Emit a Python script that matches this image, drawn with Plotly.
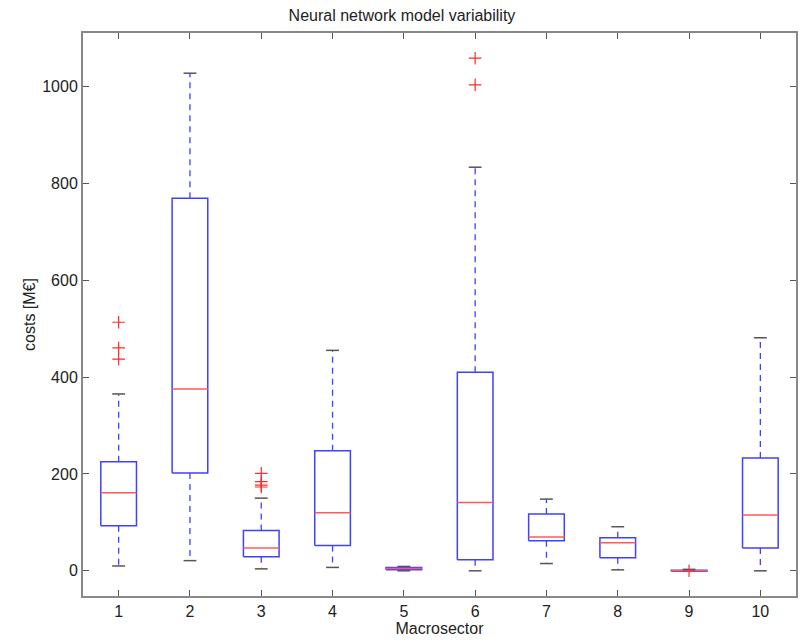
import plotly.graph_objects as go

categories = [1, 2, 3, 4, 5, 6, 7, 8, 9, 10]
lower_whisker = [10, 21, 4, 7, 0, 0, 15, 2, -1, 0]
q1 = [93, 202, 29, 52, 2, 23, 62, 27, -1, 47]
median = [161, 375, 47, 120, 5, 141, 70, 58, 0, 115]
q3 = [225, 769, 83, 248, 7, 410, 117, 68, 1, 233]
upper_whisker = [365, 1027, 150, 455, 9, 833, 148, 91, 3, 481]
outliers = {
    1: [513, 460, 437],
    3: [201, 184, 177, 173],
    6: [1058, 1003],
    9: [0],
}

BW = 0.25   # half box width
CW = 0.09   # half cap width
BLUE = "#4040ff"
RED = "#ff5a5a"
CAP = "#555555"

box_x, box_y = [], []
med_x, med_y = [], []
wh_x, wh_y = [], []
cap_x, cap_y = [], []
for i, c in enumerate(categories):
    box_x += [c - BW, c + BW, c + BW, c - BW, c - BW, None]
    box_y += [q1[i], q1[i], q3[i], q3[i], q1[i], None]
    med_x += [c - BW, c + BW, None]
    med_y += [median[i], median[i], None]
    wh_x += [c, c, None, c, c, None]
    wh_y += [q3[i], upper_whisker[i], None, q1[i], lower_whisker[i], None]
    cap_x += [c - CW, c + CW, None, c - CW, c + CW, None]
    cap_y += [upper_whisker[i], upper_whisker[i], None, lower_whisker[i], lower_whisker[i], None]

out_x, out_y = [], []
for c, vals in outliers.items():
    for v in vals:
        out_x.append(c)
        out_y.append(v)

fig = go.Figure()
fig.add_trace(go.Scatter(x=wh_x, y=wh_y, mode="lines",
                         line=dict(color=BLUE, width=1.3, dash="6px,5px"), hoverinfo="skip"))
fig.add_trace(go.Scatter(x=cap_x, y=cap_y, mode="lines",
                         line=dict(color=CAP, width=1.5), hoverinfo="skip"))
fig.add_trace(go.Scatter(x=box_x, y=box_y, mode="lines",
                         line=dict(color=BLUE, width=1.5), hoverinfo="skip"))
fig.add_trace(go.Scatter(x=med_x, y=med_y, mode="lines",
                         line=dict(color=RED, width=1.5), hoverinfo="skip"))
fig.add_trace(go.Scatter(x=out_x, y=out_y, mode="markers",
                         marker=dict(symbol="cross-thin", size=9,
                                     line=dict(color="#ff2a2a", width=1.2)),
                         hoverinfo="skip"))

font_family = "Liberation Sans, Arial, sans-serif"
fig.update_layout(
    width=804, height=643,
    margin=dict(l=83, r=6, t=33, b=47),
    paper_bgcolor="white", plot_bgcolor="white",
    showlegend=False,
    font=dict(family=font_family, size=16, color="#222"),
    title=dict(text="Neural network model variability", x=0.5, xanchor="center",
               y=1 - 15 / 643, yanchor="middle", font=dict(size=16, color="#222")),
)
fig.update_xaxes(
    range=[0.5, 10.5], tickmode="array", tickvals=categories,
    ticktext=[str(c) for c in categories],
    ticks="inside", ticklen=6, tickcolor="#555", tickwidth=1,
    showline=True, linecolor="#888", linewidth=2, mirror="ticks",
    showgrid=False, zeroline=False,
    title=dict(text="Macrosector", standoff=0, font=dict(size=16)),
)
fig.update_yaxes(
    range=[-52, 1110], tickmode="array", tickvals=[0, 200, 400, 600, 800, 1000],
    ticks="inside", ticklen=6, tickcolor="#555", tickwidth=1,
    showline=True, linecolor="#888", linewidth=2, mirror="ticks",
    showgrid=False, zeroline=False,
    title=dict(text="costs [M€]", standoff=3, font=dict(size=16)),
)

fig.write_html("out.html")
